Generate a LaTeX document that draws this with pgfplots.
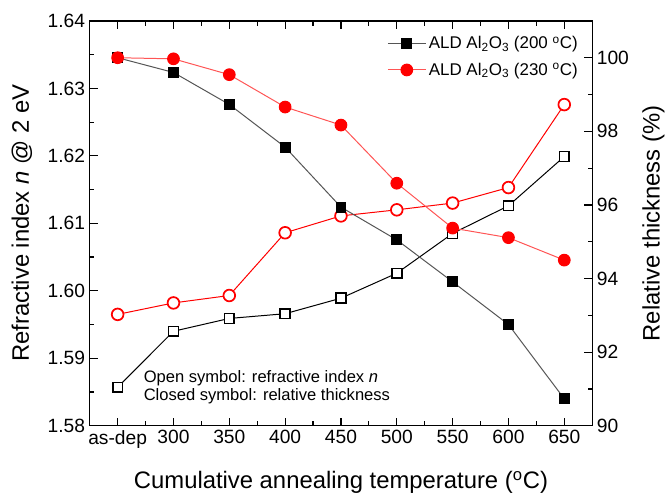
\documentclass[border=0pt]{standalone}
\usepackage{fontspec}
\setmainfont{Liberation Sans}
\usepackage{pgfplots}
\usepackage{pgfplotstable}
\pgfplotsset{compat=1.18}

\definecolor{redmk}{RGB}{255,0,0}
\definecolor{redln}{RGB}{255,85,85}
\definecolor{grayln}{RGB}{85,85,85}

% x: 0 = as-dep, 1..8 = 300..650 C
\pgfplotstableread{
x  n200   n230   t200   t230
0  1.5857 1.5965 100.00 100.00
1  1.5940 1.5982 99.60  99.97
2  1.5959 1.5993 98.73  99.54
3  1.5966 1.6086 97.57  98.66
4  1.5989 1.6111 95.94  98.17
5  1.6026 1.6120 95.05  96.59
6  1.6085 1.6130 93.91  95.37
7  1.6126 1.6153 92.75  95.11
8  1.6199 1.6276 90.73  94.50
}\data

\begin{document}
\begin{tikzpicture}
\pgfplotsset{
  common/.style={
    scale only axis, width=378bp, height=304.5bp,
    xmin=-0.5, xmax=8.5,
    tick align=inside,
    axis line style={line width=0.9bp},
    every tick/.style={line width=0.9bp, black},
    major tick length=6bp, minor tick length=3.5bp,
    tick label style={font=\fontsize{14.5}{16}\selectfont},
    label style={font=\fontsize{18}{21}\selectfont},
    /pgf/number format/assume math mode=true,
  },
}
\begin{axis}[common, name=ax,
  xtick={0,...,8},
  xticklabels={as-dep,300,350,400,450,500,550,600,650},
  minor x tick num=1,
  xtick pos=both,
  ymin=1.58, ymax=1.64,
  ytick={1.58,1.59,...,1.64},
  minor y tick num=1,
  ytick pos=left,
  yticklabel style={/pgf/number format/fixed, /pgf/number format/fixed zerofill, /pgf/number format/precision=2},
  xlabel={Cumulative annealing temperature (\textsuperscript{o}C)},
  ylabel={Refractive index \textit{n} @ 2 eV},
  xlabel style={at={(rel axis cs:0.5,-0.141)}, anchor=center},
  ylabel style={at={(rel axis cs:-0.135,0.5)}, anchor=center},
]
\addplot[black, line width=0.75bp, mark=square*, mark size=3.7bp,
  mark options={fill=white, draw=black, line width=1.2bp}] table[x=x, y=n200] {\data};
\addplot[redmk, line width=0.75bp, mark=*, mark size=4.4bp,
  mark options={fill=white, draw=redmk, line width=1.3bp}] table[x=x, y=n230] {\data};
\node[anchor=north west, align=left, inner sep=0pt, font=\fontsize{12.5}{13.5}\selectfont]
  at (rel axis cs:0.107,0.137) {Open symbol: refractive index \textit{n}\\Closed symbol: relative thickness};
\end{axis}
\begin{axis}[common,
  hide x axis,
  axis y line*=right,
  ymin=90, ymax=101,
  ytick={90,92,...,100},
  minor y tick num=1,
  ylabel={Relative thickness (\%)},
  ylabel style={at={(rel axis cs:1.122,0.5)}, anchor=center},
  legend style={at={(rel axis cs:0.985,0.975)}, anchor=north east, draw=none, fill=none,
    font=\fontsize{12.8}{14}\selectfont, row sep=5bp},
  legend cell align=left,
  legend image code/.code={\draw[mark repeat=2, mark phase=2] plot coordinates {(0cm,0cm) (0.5cm,0cm) (1cm,0cm)};},
]
\addplot[grayln, line width=0.75bp, mark=square*, mark size=3.7bp,
  mark options={fill=black, draw=black}] table[x=x, y=t200] {\data};
\addplot[redln, line width=0.75bp, mark=*, mark size=4.4bp,
  mark options={fill=redmk, draw=redmk}] table[x=x, y=t230] {\data};
\legend{ALD Al\textsubscript{2}O\textsubscript{3} (200 \textsuperscript{o}C), ALD Al\textsubscript{2}O\textsubscript{3} (230 \textsuperscript{o}C)}
\end{axis}
% page size as in the reference
\path ([shift={(-67.5bp,-52.5bp)}]ax.south west) rectangle ([shift={(56.25bp,15.75bp)}]ax.north east);
\end{tikzpicture}
\end{document}
